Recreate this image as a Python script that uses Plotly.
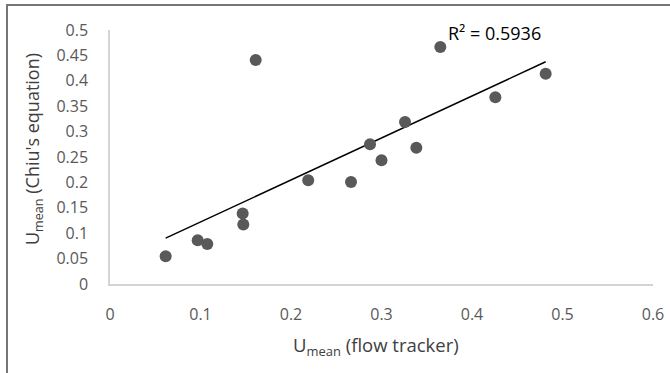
import numpy as np
import plotly.graph_objects as go

# Data
u_flow_tracker = [0.0615, 0.0969, 0.1075, 0.1466, 0.1473, 0.161, 0.219, 0.2663,
                  0.2873, 0.300, 0.326, 0.3385, 0.365, 0.4258, 0.4814]
u_chiu = [0.0546, 0.0861, 0.0788, 0.1387, 0.117, 0.441, 0.2044, 0.201,
          0.275, 0.2438, 0.3187, 0.268, 0.4665, 0.3674, 0.4139]
x_ticks = [0, 0.1, 0.2, 0.3, 0.4, 0.5, 0.6]
y_ticks = [0, 0.05, 0.1, 0.15, 0.2, 0.25, 0.3, 0.35, 0.4, 0.45, 0.5]
r2_label = "R² = 0.5936"

x = np.array(u_flow_tracker)
y = np.array(u_chiu)
slope, intercept = np.polyfit(x, y, 1)
trend_x = np.array([x.min(), x.max()])
trend_y = slope * trend_x + intercept

fig = go.Figure()
fig.add_trace(go.Scatter(x=trend_x, y=trend_y, mode="lines",
                         line=dict(color="black", width=1.5), hoverinfo="skip"))
fig.add_trace(go.Scatter(x=u_flow_tracker, y=u_chiu, mode="markers",
                         marker=dict(color="#595959", size=12)))

W, H = 670, 373
L, R, T, B = 110, 17, 30, 89
pw, ph = W - L - R, H - T - B

tickfont = dict(family="Open Sans", size=16, color="#595959")
fig.update_layout(
    width=W, height=H, showlegend=False,
    margin=dict(l=L, r=R, t=T, b=B, autoexpand=False),
    paper_bgcolor="white", plot_bgcolor="white",
    xaxis=dict(range=[0, 0.6], tickvals=x_ticks, ticktext=[f"{v:g}" for v in x_ticks],
               showgrid=False, zeroline=False, showline=True, linecolor="#d4d4d4",
               linewidth=1.5, tickfont=tickfont, ticks="", ticklabelstandoff=15,
               automargin=False),
    yaxis=dict(range=[0, 0.5], tickvals=y_ticks, ticktext=[f"{v:g}" for v in y_ticks],
               showgrid=False, zeroline=False, showline=True, linecolor="#d4d4d4",
               linewidth=1.5, tickfont=tickfont, ticks="", ticklabelstandoff=17,
               automargin=False),
)

titlefont = dict(family="Open Sans", size=18, color="#404040")
fig.add_annotation(text="U<sub>mean</sub> (flow tracker)", xref="paper", yref="paper",
                   x=(376 - L) / pw, y=-(346 - (T + ph)) / ph, showarrow=False,
                   font=dict(family="Open Sans", size=18.5, color="#404040"),
                   xanchor="center", yanchor="middle")
fig.add_annotation(text="U<sub>mean</sub> (Chiu's equation)", xref="paper", yref="paper",
                   x=(33 - L) / pw, y=1 - (149 - T) / ph, showarrow=False, textangle=-90,
                   font=titlefont, xanchor="center", yanchor="middle")
fig.add_annotation(text=r2_label, xref="paper", yref="paper",
                   x=(446 - L) / pw, y=1 - (33 - T) / ph, showarrow=False,
                   font=dict(family="Open Sans", size=18, color="black"),
                   xanchor="left", yanchor="middle")

# outer chart border (only left and top edges fall inside the picture)
bx = (7 - L) / pw
by = 1 + (T - 5) / ph
fig.add_shape(type="rect", xref="paper", yref="paper", x0=bx, x1=1 + (R + 20) / pw,
              y0=-(B + 20) / ph, y1=by, line=dict(color="#767676", width=2),
              fillcolor="rgba(0,0,0,0)", layer="above")

fig.write_html("out.html", config={"displayModeBar": False},
               post_script="document.body.style.margin='0';document.body.style.overflow='hidden';")
